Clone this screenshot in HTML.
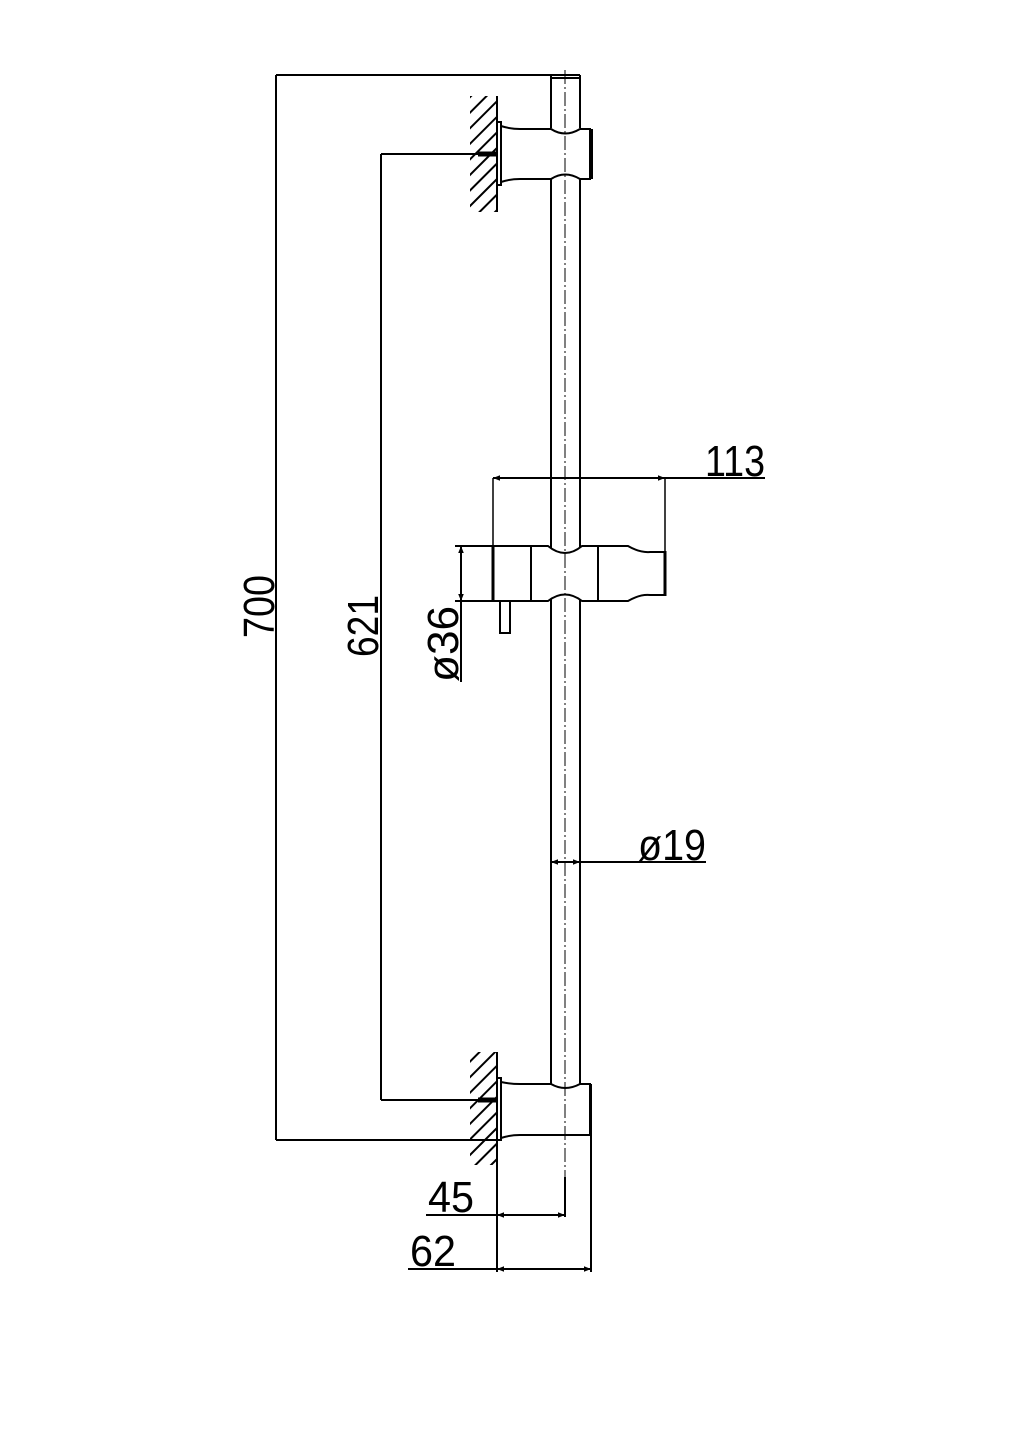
<!DOCTYPE html>
<html><head><meta charset="utf-8"><style>html,body{margin:0;padding:0;background:#fff}svg{display:block}</style></head>
<body>
<svg width="1024" height="1449" viewBox="0 0 1024 1449" xmlns="http://www.w3.org/2000/svg">
<defs>
<pattern id="h" width="11" height="11" patternUnits="userSpaceOnUse" patternTransform="rotate(-45)">
<line x1="0" y1="5" x2="11" y2="5" stroke="#000" stroke-width="2"/>
</pattern>
<marker id="a" viewBox="0 0 10 10" refX="10" refY="5" markerWidth="14" markerHeight="7" orient="auto-start-reverse" markerUnits="userSpaceOnUse"><path d="M0,1 L10,5 L0,9 Z" fill="#000"/></marker>
</defs>
<g fill="none" stroke="#000" stroke-width="2">
<line x1="551" y1="75" x2="551" y2="128"/><line x1="580" y1="75" x2="580" y2="128"/>
<line x1="551" y1="179" x2="551" y2="548"/><line x1="580" y1="179" x2="580" y2="548"/>
<line x1="551" y1="599" x2="551" y2="1084"/><line x1="580" y1="599" x2="580" y2="1084"/>
<line x1="551" y1="78" x2="580" y2="78"/>
<line x1="565" y1="70" x2="565" y2="1180" stroke-width="1" stroke-dasharray="14,3,2,3"/>
<rect x="470" y="96" width="27" height="116" fill="url(#h)" stroke="none"/>
<line x1="497" y1="96" x2="497" y2="212"/>
<rect x="497" y="122" width="4" height="63"/>
<path d="M501,126 Q510,129 520,129 L551,129 Q565,138 580,129 L590,129 L590,179 L580,179 Q565,170 551,179 L520,179 Q510,179 501,182"/>
<line x1="591" y1="129" x2="591" y2="179" stroke-width="4"/>
<line x1="478" y1="154" x2="497" y2="154" stroke-width="5"/>
<rect x="470" y="1052" width="27" height="113" fill="url(#h)" stroke="none"/>
<line x1="497" y1="1052" x2="497" y2="1272"/>
<rect x="497" y="1078" width="4" height="62"/>
<path d="M501,1082 Q510,1084 520,1084 L551,1084 Q565,1092 580,1084 L590,1084 L590,1135 L520,1135 Q510,1135 501,1138"/>
<line x1="591" y1="1084" x2="591" y2="1272"/>
<line x1="478" y1="1100" x2="497" y2="1100" stroke-width="5"/>
<path d="M493,546 L548,546 Q565,560 582,546 L628,546 Q640,553 650,552 L665,552 L665,595 L650,595 Q640,594 628,601 L582,601 Q565,588 548,601 L493,601 Z"/>
<line x1="531" y1="546" x2="531" y2="601"/><line x1="598" y1="546" x2="598" y2="601"/>
<line x1="493" y1="546" x2="493" y2="601" stroke-width="3"/>
<line x1="665" y1="551" x2="665" y2="596" stroke-width="3"/>
<rect x="500" y="601" width="10" height="32"/>
<line x1="276" y1="75" x2="580" y2="75"/>
<line x1="276" y1="75" x2="276" y2="1140"/>
<line x1="276" y1="1140" x2="497" y2="1140"/>
<line x1="381" y1="154" x2="478" y2="154"/>
<line x1="381" y1="154" x2="381" y2="1100"/>
<line x1="381" y1="1100" x2="478" y2="1100"/>
<line x1="493" y1="478" x2="493" y2="546" stroke-width="1.5"/>
<line x1="665" y1="478" x2="665" y2="551" stroke-width="1.5"/>
<line x1="493" y1="478" x2="665" y2="478" marker-start="url(#a)" marker-end="url(#a)"/>
<line x1="665" y1="478" x2="765" y2="478"/>
<line x1="455" y1="546" x2="493" y2="546"/>
<line x1="455" y1="601" x2="493" y2="601"/>
<line x1="461" y1="546" x2="461" y2="601" marker-start="url(#a)" marker-end="url(#a)"/>
<line x1="461" y1="601" x2="461" y2="682"/>
<line x1="551" y1="862" x2="580" y2="862" marker-start="url(#a)" marker-end="url(#a)"/>
<line x1="580" y1="862" x2="706" y2="862"/>
<line x1="565" y1="1177" x2="565" y2="1217"/>
<line x1="497" y1="1215" x2="565" y2="1215" marker-start="url(#a)" marker-end="url(#a)"/>
<line x1="426" y1="1215" x2="497" y2="1215"/>
<line x1="497" y1="1269" x2="591" y2="1269" marker-start="url(#a)" marker-end="url(#a)"/>
<line x1="408" y1="1269" x2="497" y2="1269"/>
</g>
<g font-family="'Liberation Sans', sans-serif" font-size="44" fill="#000">
<text x="0" y="0" transform="translate(274,638) rotate(-90)" textLength="63" lengthAdjust="spacingAndGlyphs">700</text>
<text x="0" y="0" transform="translate(378,657) rotate(-90)" textLength="62" lengthAdjust="spacingAndGlyphs">621</text>
<text x="0" y="0" transform="translate(458,682) rotate(-90)" textLength="76" lengthAdjust="spacingAndGlyphs">ø36</text>
<text x="705" y="476" textLength="60" lengthAdjust="spacingAndGlyphs">113</text>
<text x="638" y="860" textLength="68" lengthAdjust="spacingAndGlyphs">ø19</text>
<text x="428" y="1212" textLength="46" lengthAdjust="spacingAndGlyphs">45</text>
<text x="410" y="1266" textLength="46" lengthAdjust="spacingAndGlyphs">62</text>
</g>
</svg>
</body></html>
